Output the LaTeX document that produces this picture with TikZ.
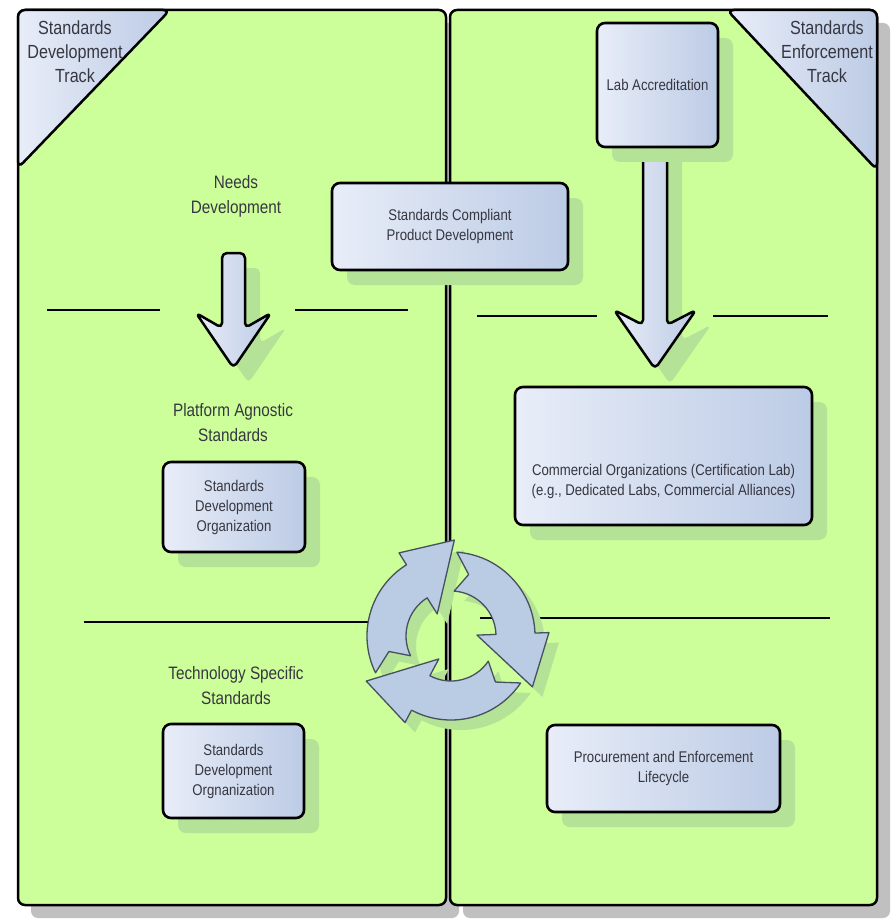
\documentclass[tikz,border=0pt]{standalone}
\usepackage{fontspec}
\setmainfont{Liberation Sans}[FakeStretch=0.85]
\usetikzlibrary{shadows}
\definecolor{panelgreen}{RGB}{204,255,153}
\definecolor{shgreen}{RGB}{180,226,150}
\definecolor{panelshadow}{RGB}{192,192,192}
\definecolor{boxA}{RGB}{232,237,248}
\definecolor{boxB}{RGB}{188,203,229}
\definecolor{ringfill}{RGB}{186,203,228}
\definecolor{ringline}{RGB}{70,80,95}
\definecolor{txt}{RGB}{55,55,65}
\newcommand\ringarrow[1]{({#1+84}:84) arc[start angle={#1+84}, end angle={#1}, radius=84]
 -- ({#1}:98) -- ({#1-34}:96) -- ({#1}:26) -- ({#1}:45)
 arc[start angle={#1}, end angle={#1+84}, radius=45]
 -- ({#1+72}:64) -- cycle}
\begin{document}
\begin{tikzpicture}[x=1pt,y=-1pt,
  panel/.style={draw=black, line width=2.5pt, fill=panelgreen, rounded corners=7pt,
    general shadow={fill=panelshadow, shadow xshift=13pt, shadow yshift=-13pt}},
  tri/.style={draw=black, line width=2.5pt, left color=boxA, right color=boxB, rounded corners=7pt},
  gshadow/.style={general shadow={fill=shgreen, shadow xshift=15pt, shadow yshift=-15pt}},
  box/.style={draw=black, line width=2.6pt, rounded corners=8pt, left color=boxA, right color=boxB,
    text=txt, align=center, inner sep=0pt, font=\fontsize{15.5}{20}\selectfont, gshadow},
  boxtext/.style={text=txt, align=center, inner sep=0pt, font=\fontsize{15.5}{20}\selectfont},
  bigarrow/.style={draw=black, line width=2.5pt, left color=boxA, right color=boxB,
    rounded corners=5pt, line join=round, gshadow},
  sect/.style={text=txt, align=center, font=\fontsize{18}{25}\selectfont},
  track/.style={text=txt, align=center, font=\fontsize{19}{24}\selectfont},
  sep/.style={draw=black, line width=2.5pt},
  ring/.style={draw=ringline, line width=1.3pt, fill=ringfill, line join=round},
  ringshadow/.style={fill=shgreen}
]
\useasboundingbox (0,0) rectangle (892,920);

% panels
\path[panel] (18,10) rectangle (446,905);
\path[panel] (450,10) rectangle (877,905);

% track corner triangles
\path[tri] (18,10) -- (170,10) -- (18,168) -- cycle;
\path[tri] (727,10) -- (877,10) -- (877,170) -- cycle;
\node[track] (tl) at (75,52) {Standards\\Development\\Track};
\node[track] (tr) at (827,52) {Standards\\Enforcement\\Track};

% separator lines
\coordinate (l1a) at (47,310);  \coordinate (l1b) at (160,310);
\coordinate (l2a) at (295,310); \coordinate (l2b) at (408,310);
\coordinate (l3a) at (477,316); \coordinate (l3b) at (597,316);
\coordinate (l4a) at (713,316); \coordinate (l4b) at (828,316);
\coordinate (l5a) at (84,622);  \coordinate (l5b) at (420,622);
\coordinate (l6a) at (480,618); \coordinate (l6b) at (830,618);
\draw[sep] (l1a) -- (l1b);
\draw[sep] (l2a) -- (l2b);
\draw[sep] (l3a) -- (l3b);
\draw[sep] (l4a) -- (l4b);
\draw[sep] (l5a) -- (l5b);
\draw[sep] (l6a) -- (l6b);

% block arrows
\path[bigarrow] (222,253) -- (222,328) -- (196,313) -- (233.5,368) -- (271,313) -- (245,328) -- (245,253) -- cycle;
\path[bigarrow] (643,140) -- (643,325) -- (614,310) -- (655,369) -- (696,310) -- (667,325) -- (667,140) -- cycle;

% boxes
\node[box, minimum width=121pt, minimum height=124pt] (lab) at (657.5,85) {Lab Accreditation};
\node[box, minimum width=236pt, minimum height=87pt] (scpd) at (450,226.5) {Standards Compliant\\Product Development};
\node[box, minimum width=297pt, minimum height=138pt] (comm) at (663.5,456) {};
\node[boxtext] (commtext) at (663.5,481) {Commercial Organizations (Certification Lab)\\(e.g., Dedicated Labs, Commercial Alliances)};
\node[box, minimum width=142pt, minimum height=90pt] (sdo1) at (234,507) {Standards\\Development\\Organization};
\node[box, minimum width=141pt, minimum height=94pt] (sdo2) at (233.5,771) {Standards\\Development\\Orgnanization};
\node[box, minimum width=233pt, minimum height=87pt] (proc) at (663.5,768.5) {Procurement and Enforcement\\Lifecycle};

% section labels
\node[sect] (s1) at (236,196) {Needs\\Development};
\node[sect] (s2) at (233,423) {Platform Agnostic\\Standards};
\node[sect] (s3) at (236,686) {Technology Specific\\Standards};

% cycle arrows
\begin{scope}[shift={(451,636)}, x=1pt, y=1pt]
  \begin{scope}[shift={(10,-10)}]
    \path[ringshadow] \ringarrow{122};
    \path[ringshadow] \ringarrow{2};
    \path[ringshadow] \ringarrow{242};
  \end{scope}
  \path[ring] \ringarrow{122};
  \path[ring] \ringarrow{2};
  \path[ring] \ringarrow{242};
\end{scope}
\end{tikzpicture}
\end{document}
